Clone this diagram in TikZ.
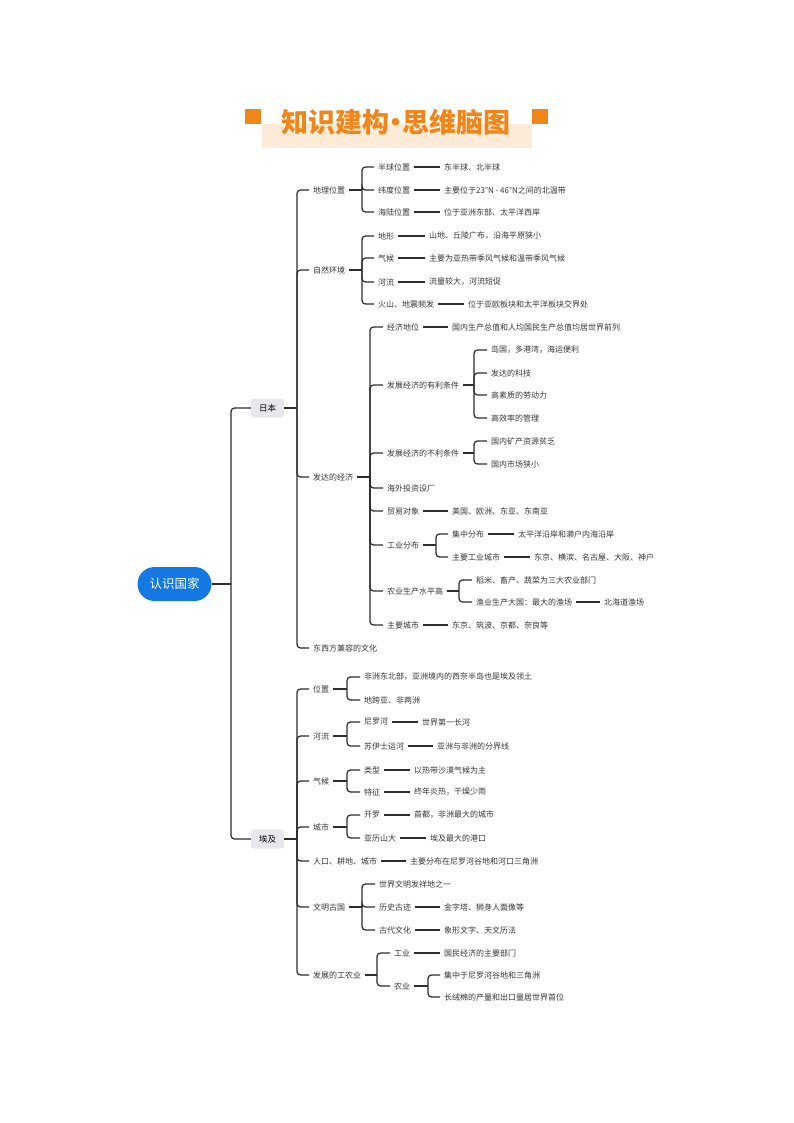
\documentclass[tikz,border=0pt]{standalone}
\usepackage{fontspec}
\newfontfamily\cjk{Noto Sans CJK SC}
\definecolor{txt}{HTML}{3A3636}
\definecolor{linec}{HTML}{2E2E2E}
\definecolor{orng}{HTML}{F08519}
\definecolor{peach}{HTML}{FDEBD8}
\definecolor{rootblue}{HTML}{1479E2}
\definecolor{catgray}{HTML}{E6E8EB}
\newcommand\mfork[3]{%
  \coordinate (#1-x) at (#2,0);
  \coordinate (#1-j) at (#1.east -| #1-x);
  \draw[ln] (#1.east) -- (#1-j);
  \foreach \c in {#3}{\draw[br] (#1-j) |- (\c.west);}%
}
\newcommand\lv[2]{\draw[ln] (#1.east) -- (#2.west);}
\begin{document}
\begin{tikzpicture}[x=1pt,y=-1pt,
  t/.style={anchor=west,xshift=-4pt,inner xsep=4pt,inner ysep=1.5pt,font=\cjk\fontsize{8}{9.6}\selectfont,text=txt},
  ln/.style={draw=linec,line width=1.25pt},
  br/.style={ln,rounded corners=3.5pt},
  cat/.style={fill=catgray,rounded corners=3pt,minimum width=33pt,minimum height=19pt,inner sep=0pt,font=\cjk\fontsize{8.5}{10}\selectfont,text=black}
]
\useasboundingbox (0,0) rectangle (794,1123);
\fill[white] (0,0) rectangle (794,1123);
% title
\fill[peach] (262,124) rectangle (532,148);
\fill[orng] (245,109) rectangle (261,124);
\fill[orng] (532,109) rectangle (548,124);
\node[font=\cjk\bfseries\fontsize{27}{29}\selectfont,text=orng,inner sep=0pt] (title) at (396,122) {知识建构\kern-7pt·\kern-7pt思维脑图};
% root and categories
\node[fill=rootblue,text=white,rounded corners=17pt,minimum width=74pt,minimum height=34pt,inner sep=0pt,font=\cjk\fontsize{12.5}{14}\selectfont] (root) at (174.5,584) {认识国家};
\node[cat] (jp) at (267.5,408) {日本};
\node[cat] (eg) at (267.5,839) {埃及};
% ---- Japan
\node[t] (j1) at (313,190) {地理位置};
\node[t] (j2) at (313,270) {自然环境};
\node[t] (j3) at (313,477) {发达的经济};
\node[t] (j4) at (313,648) {东西方兼容的文化};
\node[t] (j11) at (378,167) {半球位置};
\node[t] (j12) at (378,190) {纬度位置};
\node[t] (j13) at (378,212) {海陆位置};
\node[t] (j11v) at (444,167) {东半球、北半球};
\node[t] (j12v) at (444,190) {主要位于23°N - 46°N之间的北温带};
\node[t] (j13v) at (444,212) {位于亚洲东部、太平洋西岸};
\node[t] (j21) at (378,236) {地形};
\node[t] (j22) at (378,258) {气候};
\node[t] (j23) at (378,282) {河流};
\node[t] (j24) at (378,304) {火山、地震频发};
\node[t] (j21v) at (429,236) {山地、丘陵广布，沿海平原狭小};
\node[t] (j22v) at (429,258) {主要为亚热带季风气候和温带季风气候};
\node[t] (j23v) at (429,282) {流量较大，河流短促};
\node[t] (j24v) at (468,304) {位于亚欧板块和太平洋板块交界处};
\node[t] (j31) at (387,327) {经济地位};
\node[t] (j31v) at (452,327) {国内生产总值和人均国民生产总值均居世界前列};
\node[t] (j32) at (387,385) {发展经济的有利条件};
\node[t] (j321) at (491,350) {岛国，多港湾，海运便利};
\node[t] (j322) at (491,373) {发达的科技};
\node[t] (j323) at (491,395) {高素质的劳动力};
\node[t] (j324) at (491,418) {高效率的管理};
\node[t] (j33) at (387,453) {发展经济的不利条件};
\node[t] (j331) at (491,441) {国内矿产资源贫乏};
\node[t] (j332) at (491,464) {国内市场狭小};
\node[t] (j34) at (387,488) {海外投资设厂};
\node[t] (j35) at (387,511) {贸易对象};
\node[t] (j35v) at (452,511) {美国、欧洲、东亚、东南亚};
\node[t] (j36) at (387,545) {工业分布};
\node[t] (j361) at (452,534) {集中分布};
\node[t] (j361v) at (518,534) {太平洋沿岸和濑户内海沿岸};
\node[t] (j362) at (452,557) {主要工业城市};
\node[t] (j362v) at (534,557) {东京、横滨、名古屋、大阪、神户};
\node[t] (j37) at (387,591) {农业生产水平高};
\node[t] (j371) at (476,580) {稻米、畜产、蔬菜为三大农业部门};
\node[t] (j372) at (476,602) {渔业生产大国：最大的渔场};
\node[t] (j372v) at (604,602) {北海道渔场};
\node[t] (j38) at (387,625) {主要城市};
\node[t] (j38v) at (452,625) {东京、筑波、京都、奈良等};
% ---- Egypt
\node[t] (e1) at (313,689) {位置};
\node[t] (e2) at (313,736) {河流};
\node[t] (e3) at (313,781) {气候};
\node[t] (e4) at (313,827) {城市};
\node[t] (e5) at (313,861) {人口、耕地、城市};
\node[t] (e6) at (313,907) {文明古国};
\node[t] (e7) at (313,975) {发展的工农业};
\node[t] (e11) at (364,677) {非洲东北部，亚洲境内的西奈半岛也是埃及领土};
\node[t] (e12) at (364,700) {地跨亚、非两洲};
\node[t] (e21) at (364,722) {尼罗河};
\node[t] (e21v) at (422,722) {世界第一长河};
\node[t] (e22) at (364,746) {苏伊士运河};
\node[t] (e22v) at (437,746) {亚洲与非洲的分界线};
\node[t] (e31) at (364,770) {类型};
\node[t] (e31v) at (414,770) {以热带沙漠气候为主};
\node[t] (e32) at (364,792) {特征};
\node[t] (e32v) at (414,792) {终年炎热，干燥少雨};
\node[t] (e41) at (364,815) {开罗};
\node[t] (e41v) at (414,815) {首都，非洲最大的城市};
\node[t] (e42) at (364,838) {亚历山大};
\node[t] (e42v) at (430,838) {埃及最大的港口};
\node[t] (e5v) at (410,861) {主要分布在尼罗河谷地和河口三角洲};
\node[t] (e61) at (379,884) {世界文明发祥地之一};
\node[t] (e62) at (379,907) {历史古迹};
\node[t] (e62v) at (444,907) {金字塔、狮身人面像等};
\node[t] (e63) at (379,930) {古代文化};
\node[t] (e63v) at (444,930) {象形文字、天文历法};
\node[t] (e71) at (394,953) {工业};
\node[t] (e71v) at (444,953) {国民经济的主要部门};
\node[t] (e72) at (394,986) {农业};
\node[t] (e721) at (444,975) {集中于尼罗河谷地和三角洲};
\node[t] (e722) at (444,997) {长绒棉的产量和出口量居世界首位};
% ---- connectors
\mfork{root}{231}{jp,eg}
\mfork{jp}{297}{j1,j2,j3,j4}
\mfork{j1}{362}{j11,j12,j13}
\mfork{j2}{362}{j21,j22,j23,j24}
\mfork{j3}{370}{j31,j32,j33,j34,j35,j36,j37,j38}
\mfork{j32}{474}{j321,j322,j323,j324}
\mfork{j33}{474}{j331,j332}
\mfork{j36}{436}{j361,j362}
\mfork{j37}{459}{j371,j372}
\lv{j11}{j11v}\lv{j12}{j12v}\lv{j13}{j13v}
\lv{j21}{j21v}\lv{j22}{j22v}\lv{j23}{j23v}\lv{j24}{j24v}
\lv{j31}{j31v}\lv{j35}{j35v}\lv{j361}{j361v}\lv{j362}{j362v}
\lv{j372}{j372v}\lv{j38}{j38v}
\mfork{eg}{297}{e1,e2,e3,e4,e5,e6,e7}
\mfork{e1}{347}{e11,e12}
\mfork{e2}{347}{e21,e22}
\mfork{e3}{347}{e31,e32}
\mfork{e4}{347}{e41,e42}
\mfork{e6}{362}{e61,e62,e63}
\mfork{e7}{377}{e71,e72}
\mfork{e72}{428}{e721,e722}
\lv{e21}{e21v}\lv{e22}{e22v}\lv{e31}{e31v}\lv{e32}{e32v}
\lv{e41}{e41v}\lv{e42}{e42v}\lv{e5}{e5v}\lv{e62}{e62v}\lv{e63}{e63v}
\lv{e71}{e71v}
\end{tikzpicture}
\end{document}
